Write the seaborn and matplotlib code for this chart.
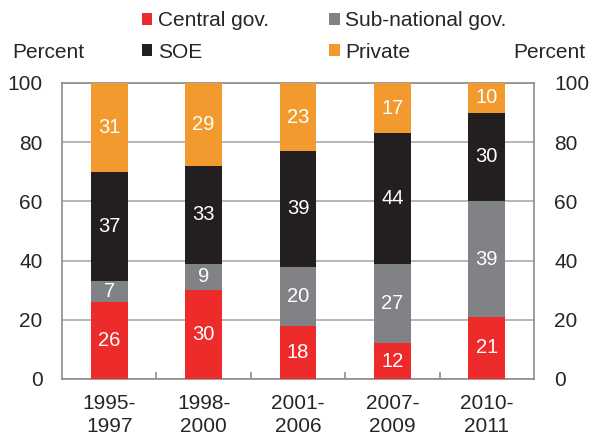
import numpy as np
import pandas as pd
import matplotlib
matplotlib.use("Agg")
import matplotlib.pyplot as plt
import seaborn as sns
from matplotlib.patches import Patch

periods = ["1995-\n1997", "1998-\n2000", "2001-\n2006", "2007-\n2009", "2010-\n2011"]
central_gov = [26, 30, 18, 12, 21]
sub_national_gov = [7, 9, 20, 27, 39]
soe = [37, 33, 39, 44, 30]
private = [31, 29, 23, 17, 10]

series_names = ["Central gov.", "Sub-national gov.", "SOE", "Private"]
series_values = [central_gov, sub_national_gov, soe, private]
colors = ["#EE2B2B", "#818285", "#231F20", "#F39A2F"]

sns.set_theme(style="white")
plt.rcParams["font.family"] = ["Liberation Sans", "DejaVu Sans"]

W, H = 589, 437
fig = plt.figure(figsize=(W / 100, H / 100), dpi=100)
ax = fig.add_axes([62 / W, (H - 379) / H, (534 - 62) / W, (379 - 83) / H])

vals = np.array(series_values, dtype=float)
cum = np.cumsum(vals, axis=0)
df = pd.DataFrame({"period": periods})
for i, name in enumerate(series_names):
    df[name] = cum[i]

# stacked bars: draw cumulative totals from the top layer down
for i in range(len(series_names) - 1, -1, -1):
    sns.barplot(data=df, x="period", y=series_names[i], order=periods,
                color=colors[i], width=0.39, saturation=1, ax=ax, zorder=3,
                linewidth=0, edgecolor="none")

ymax = 100
for i in range(len(series_names)):
    for j in range(len(periods)):
        lo = cum[i][j] - vals[i][j]
        hi = min(cum[i][j], ymax)
        mid = (lo + hi) / 2
        ax.text(j, mid, f"{int(vals[i][j])}", ha="center", va="center",
                color="white", fontsize=14.5, zorder=5)

ax.set_ylim(0, ymax)
ax.set_xlim(-0.5, len(periods) - 0.5)
ax.set_yticks(np.arange(0, 101, 20))
ax.yaxis.grid(True, color="#A7A9AC", linewidth=1.2, zorder=0)
ax.set_axisbelow(True)
ax.set_xlabel("")
ax.set_ylabel("")
for s in ax.spines.values():
    s.set_color("#8C8C8C")
    s.set_linewidth(1.2)
    s.set_visible(True)

ax.set_xticks(np.arange(len(periods)))
ax.set_xticklabels(periods, fontsize=15, linespacing=1.25)
ax.tick_params(axis="x", length=0, pad=11)
ax.set_xticks(np.arange(0.5, len(periods) - 1, 1), minor=True)
ax.tick_params(axis="x", which="minor", direction="in", length=5,
               color="#8C8C8C", width=1.2, bottom=True)
ax.tick_params(axis="y", length=0, labelsize=15, pad=14)

ax2 = ax.twinx()
ax2.set_ylim(ax.get_ylim())
ax2.set_yticks(np.arange(0, 101, 20))
ax2.tick_params(axis="y", length=0, labelsize=15, pad=14.5)
for s in ax2.spines.values():
    s.set_visible(False)

fig.text(12 / W, 1 - 52 / H, "Percent", fontsize=15, va="center", ha="left")
fig.text(585 / W, 1 - 52 / H, "Percent", fontsize=15, va="center", ha="right")

handles = [Patch(facecolor=c, edgecolor="none") for c in colors]
order = [0, 2, 1, 3]
fig.legend([handles[k] for k in order], [series_names[k] for k in order],
           ncol=2, loc="upper left", bbox_to_anchor=(142 / W, 1 - 11 / H),
           frameon=False, fontsize=15, handlelength=0.5, handleheight=0.5,
           handletextpad=0.25, columnspacing=2.9, labelspacing=0.6,
           borderpad=0, borderaxespad=0)

fig.savefig("out.png", dpi=100)
